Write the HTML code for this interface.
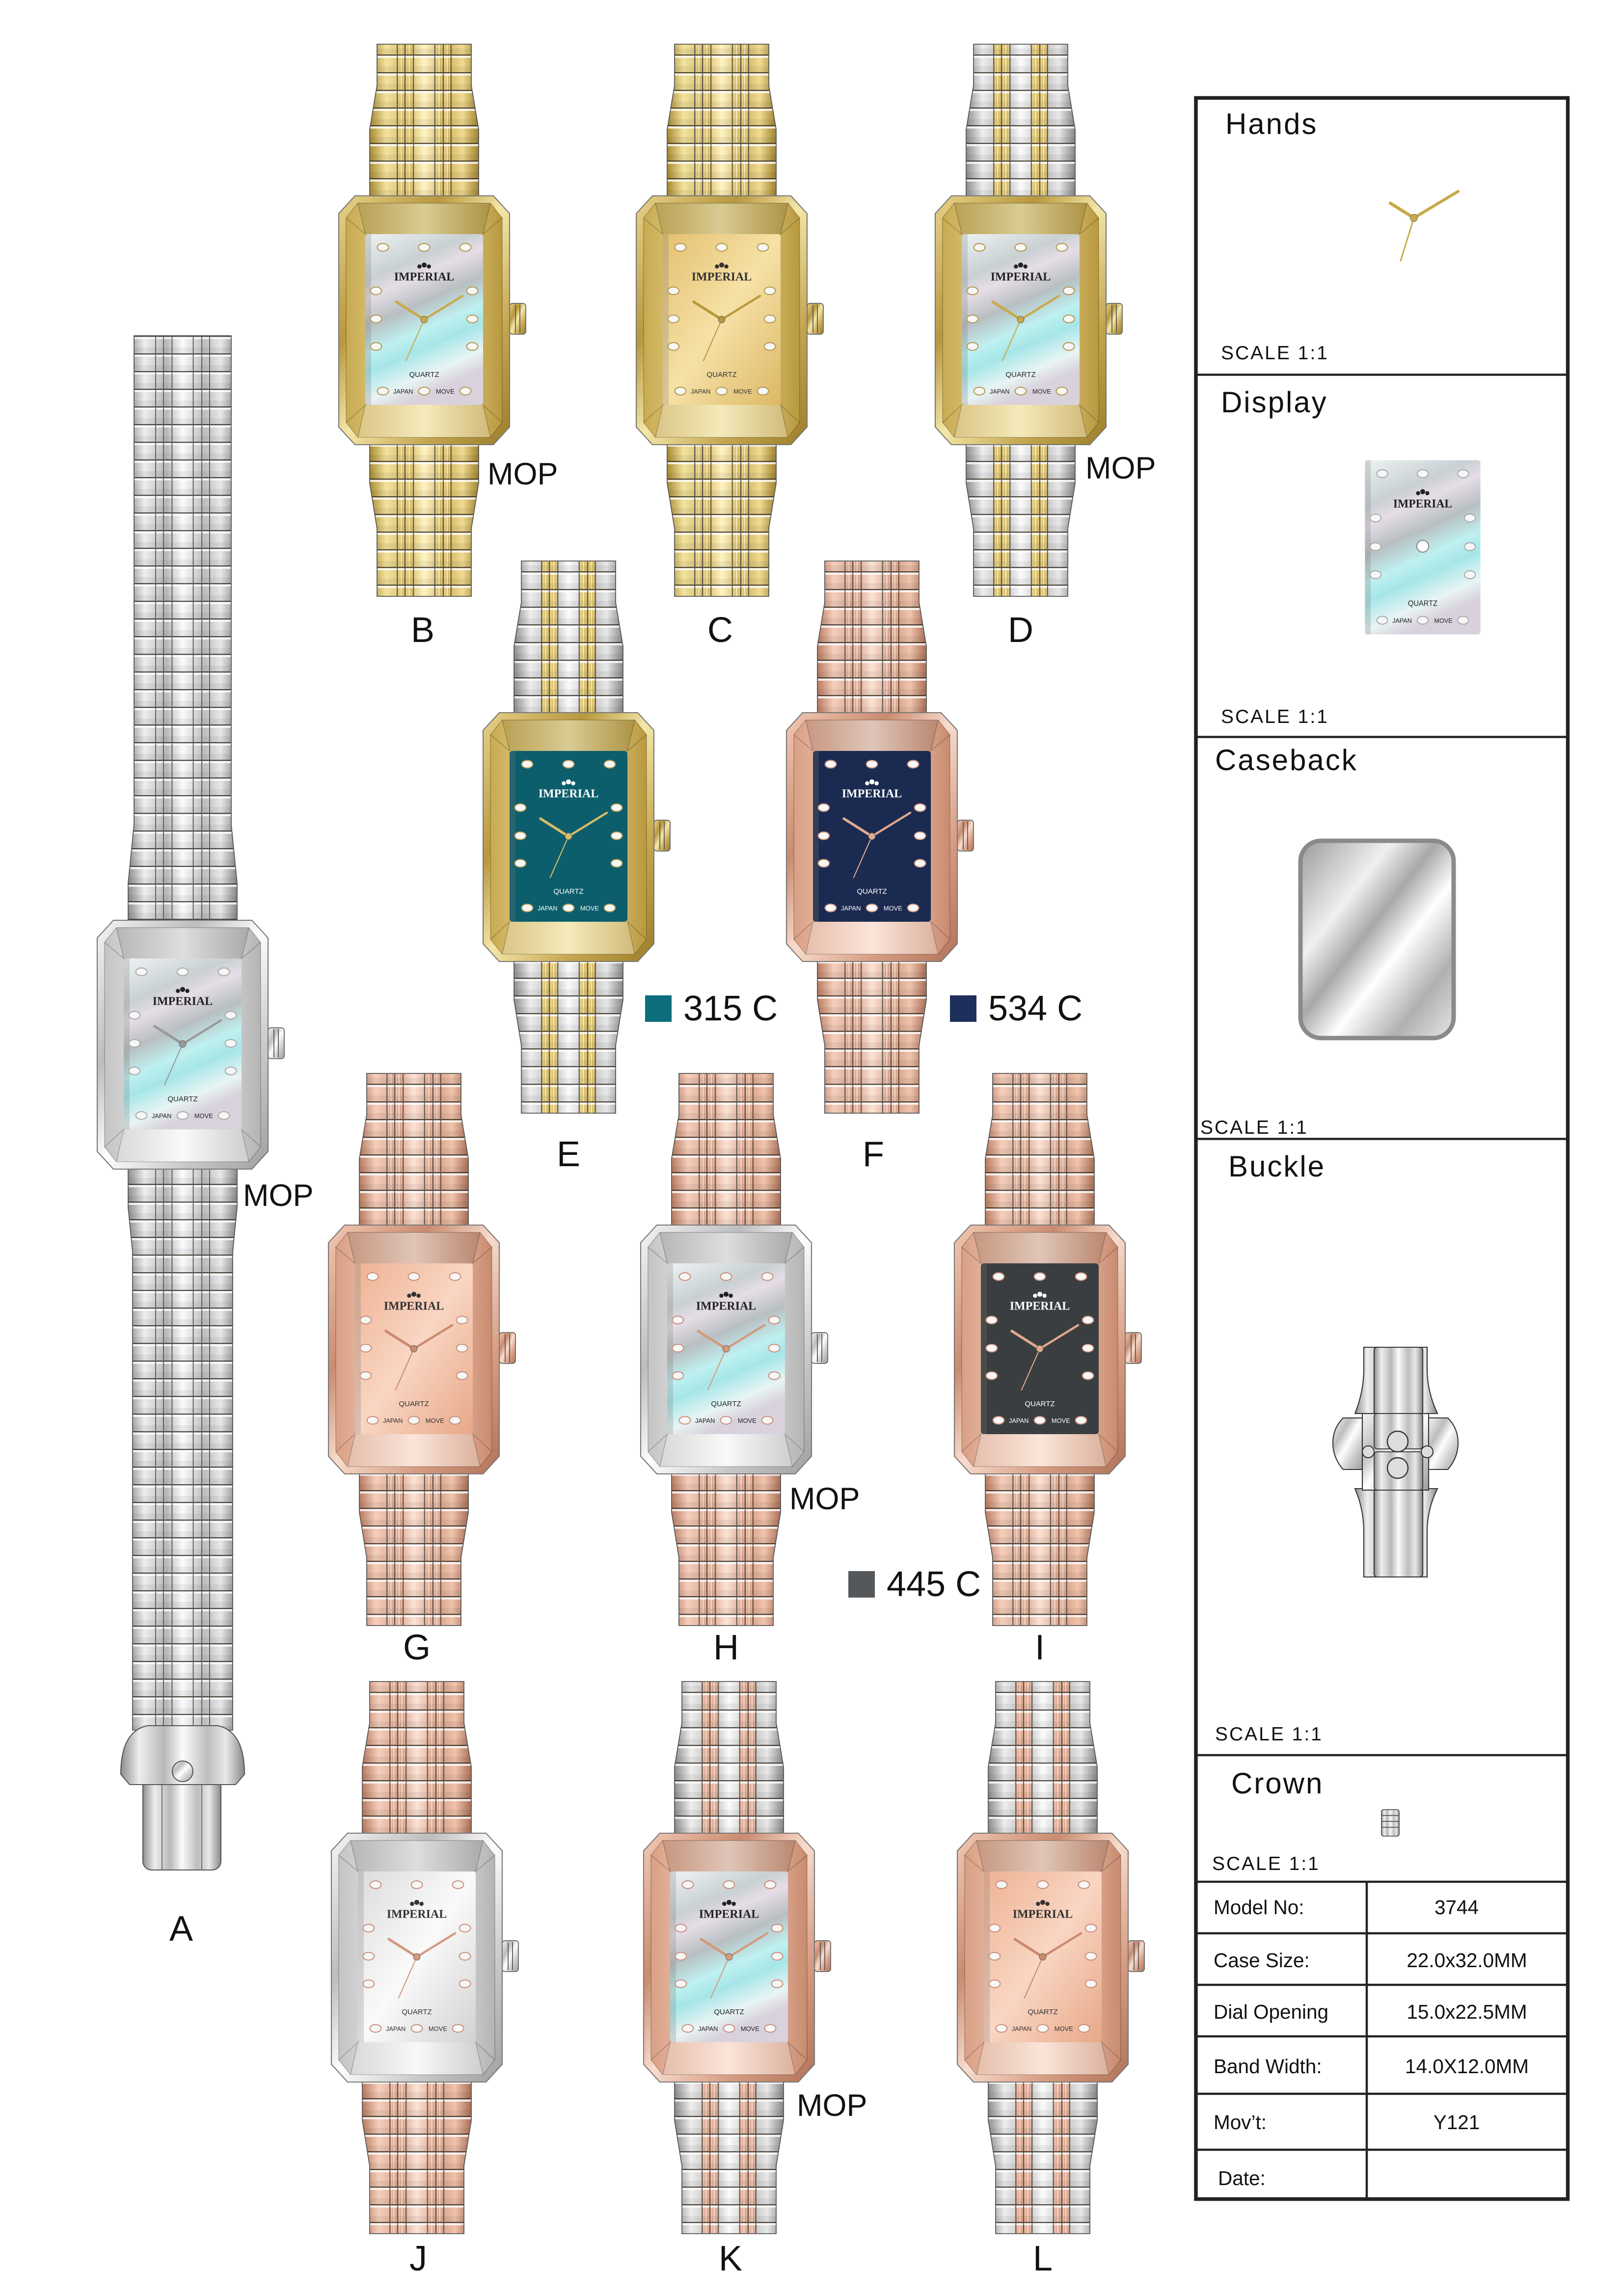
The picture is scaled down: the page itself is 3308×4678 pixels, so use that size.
<!DOCTYPE html>
<html><head><meta charset="utf-8"><style>
html,body{margin:0;padding:0;background:#fff}
svg{display:block}
text{font-family:"Liberation Sans",sans-serif}
</style></head><body>
<svg width="3308" height="4678" viewBox="0 0 1102.67 1559.33" xmlns="http://www.w3.org/2000/svg">
<defs>
<linearGradient id="gold" x1="0" x2="1"><stop offset="0" stop-color="#a88a30"/><stop offset=".15" stop-color="#f3e3a0"/><stop offset=".35" stop-color="#d4b75e"/><stop offset=".5" stop-color="#fff4c4"/><stop offset=".7" stop-color="#cfae55"/><stop offset=".85" stop-color="#f0dc94"/><stop offset="1" stop-color="#a0832c"/></linearGradient>
<linearGradient id="rose" x1="0" x2="1"><stop offset="0" stop-color="#b97a5f"/><stop offset=".15" stop-color="#f5cfbd"/><stop offset=".35" stop-color="#d9a188"/><stop offset=".5" stop-color="#fbe3d6"/><stop offset=".7" stop-color="#d49a80"/><stop offset=".85" stop-color="#f0c4ad"/><stop offset="1" stop-color="#a96e55"/></linearGradient>
<linearGradient id="silver" x1="0" x2="1"><stop offset="0" stop-color="#8d8d8d"/><stop offset=".15" stop-color="#eeeeee"/><stop offset=".35" stop-color="#b8b8b8"/><stop offset=".5" stop-color="#fbfbfb"/><stop offset=".7" stop-color="#bdbdbd"/><stop offset=".85" stop-color="#e8e8e8"/><stop offset="1" stop-color="#888"/></linearGradient>
<linearGradient id="goldC" x1="0" y1="0" x2="1" y2="1"><stop offset="0" stop-color="#e8d28a"/><stop offset=".3" stop-color="#b8983e"/><stop offset=".5" stop-color="#f5e7a8"/><stop offset=".75" stop-color="#c4a650"/><stop offset="1" stop-color="#9c7e2a"/></linearGradient>
<linearGradient id="roseC" x1="0" y1="0" x2="1" y2="1"><stop offset="0" stop-color="#f3c9b4"/><stop offset=".3" stop-color="#c98c70"/><stop offset=".5" stop-color="#f8dccd"/><stop offset=".75" stop-color="#d69c82"/><stop offset="1" stop-color="#b07358"/></linearGradient>
<linearGradient id="silverC" x1="0" y1="0" x2="1" y2="1"><stop offset="0" stop-color="#f5f5f5"/><stop offset=".3" stop-color="#bdbdbd"/><stop offset=".5" stop-color="#fefefe"/><stop offset=".75" stop-color="#c8c8c8"/><stop offset="1" stop-color="#a0a0a0"/></linearGradient>
<linearGradient id="goldB" x1="0" y1="0" x2="1" y2="0"><stop offset="0" stop-color="#c8aa52"/><stop offset=".5" stop-color="#f2e3a4"/><stop offset="1" stop-color="#b9993f"/></linearGradient>
<linearGradient id="roseB" x1="0" y1="0" x2="1" y2="0"><stop offset="0" stop-color="#d9a085"/><stop offset=".5" stop-color="#f9dccd"/><stop offset="1" stop-color="#c98b6f"/></linearGradient>
<linearGradient id="silverB" x1="0" y1="0" x2="1" y2="0"><stop offset="0" stop-color="#c4c4c4"/><stop offset=".5" stop-color="#f7f7f7"/><stop offset="1" stop-color="#b4b4b4"/></linearGradient>
<linearGradient id="mop" x1="0" y1="0" x2=".3" y2="1"><stop offset="0" stop-color="#eef3f4"/><stop offset=".25" stop-color="#c9d0d3"/><stop offset=".35" stop-color="#e6dde6"/><stop offset=".5" stop-color="#b8bfc2"/><stop offset=".65" stop-color="#bff0f0"/><stop offset=".75" stop-color="#a6e6e8"/><stop offset=".9" stop-color="#e8f4f4"/><stop offset="1" stop-color="#d9d2dc"/></linearGradient>
<linearGradient id="goldD" x1="0" y1="0" x2="1" y2="1"><stop offset="0" stop-color="#e3c070"/><stop offset=".5" stop-color="#f6e1a6"/><stop offset="1" stop-color="#dcb866"/></linearGradient>
<linearGradient id="roseD" x1="0" y1="0" x2="1" y2="1"><stop offset="0" stop-color="#eeb293"/><stop offset=".5" stop-color="#f9d6c3"/><stop offset="1" stop-color="#e8a888"/></linearGradient>
<linearGradient id="silverD" x1="0" y1="0" x2="1" y2="1"><stop offset="0" stop-color="#dcdcdc"/><stop offset=".5" stop-color="#fafafa"/><stop offset="1" stop-color="#d2d2d2"/></linearGradient>
<linearGradient id="back" x1="0" y1="0" x2="1" y2="1"><stop offset="0" stop-color="#9a9a9a"/><stop offset=".3" stop-color="#f0f0f0"/><stop offset=".45" stop-color="#a8a8a8"/><stop offset=".6" stop-color="#ffffff"/><stop offset=".8" stop-color="#b0b0b0"/><stop offset="1" stop-color="#e6e6e6"/></linearGradient>
<pattern id="links" width="100" height="12" patternUnits="userSpaceOnUse"><rect y="0" width="100" height="0.8" fill="rgba(40,30,20,.8)"/><rect y="0.8" width="100" height="1.5" fill="rgba(255,255,255,.8)"/><rect y="8" width="100" height="4" fill="rgba(0,0,0,.06)"/></pattern>

<g id="dial">
<rect x="-40" y="26" width="80" height="116" rx="2" style="fill:var(--d)"/>
<rect x="-40" y="26" width="4" height="116" fill="rgba(120,120,120,.25)"/>
<g style="fill:#f7f7f7;stroke:var(--m)" stroke-width=".7">
<ellipse cx="-28" cy="35" rx="3.8" ry="2.6"/><ellipse cx="0" cy="35" rx="3.8" ry="2.6"/><ellipse cx="28" cy="35" rx="3.8" ry="2.6"/>
<ellipse cx="-32.7" cy="64.5" rx="3.8" ry="2.6"/><ellipse cx="-32.7" cy="83.6" rx="3.8" ry="2.6"/><ellipse cx="-32.7" cy="102.3" rx="3.8" ry="2.6"/>
<ellipse cx="32.7" cy="64.5" rx="3.8" ry="2.6"/><ellipse cx="32.7" cy="83.6" rx="3.8" ry="2.6"/><ellipse cx="32.7" cy="102.3" rx="3.8" ry="2.6"/>
<ellipse cx="-28" cy="132.6" rx="3.8" ry="2.6"/><ellipse cx="0" cy="132.6" rx="3.8" ry="2.6"/><ellipse cx="28" cy="132.6" rx="3.8" ry="2.6"/>
</g>
<g style="fill:var(--t)">
<circle cx="-3.2" cy="48" r="1.4"/><circle cx="0" cy="47" r="1.7"/><circle cx="3.2" cy="48" r="1.4"/>
<text x="0" y="57.5" text-anchor="middle" font-weight="bold" font-size="8" style="font-family:'Liberation Serif',serif">IMPERIAL</text>
<text x="0" y="123" text-anchor="middle" font-size="5">QUARTZ</text>
<text x="-14.3" y="134.3" text-anchor="middle" font-size="4.3">JAPAN</text>
<text x="14.3" y="134.3" text-anchor="middle" font-size="4.3">MOVE</text>
</g>
</g>

<g id="upper">
<path d="M-32,-103H32V-75L37,-45V0H-37V-45L-32,-75Z" style="fill:var(--b1)"/>
<g style="fill:var(--b2)"><rect x="-18" y="-103" width="4.8" height="103"/><rect x="-12.8" y="-103" width="5.4" height="103"/><rect x="7.4" y="-103" width="5.4" height="103"/><rect x="13.2" y="-103" width="4.8" height="103"/></g>
<path d="M-32,-103H32V-75L37,-45V0H-37V-45L-32,-75Z" fill="url(#links)" stroke="#555" stroke-width=".6"/>
<path d="M-18.3,-103V0M-13,-103V0M-7.2,-103V0M7.2,-103V0M13,-103V0M18.3,-103V0" stroke="#555" stroke-width=".6"/>
</g>
<g id="lower">
<path d="M-37,169H37V195L32,226V272H-32V226L-37,195Z" style="fill:var(--b1)"/>
<g style="fill:var(--b2)"><rect x="-18" y="169" width="4.8" height="103"/><rect x="-12.8" y="169" width="5.4" height="103"/><rect x="7.4" y="169" width="5.4" height="103"/><rect x="13.2" y="169" width="4.8" height="103"/></g>
<path d="M-37,169H37V195L32,226V272H-32V226L-37,195Z" fill="url(#links)" stroke="#555" stroke-width=".6"/>
<path d="M-18.3,169V272M-13,169V272M-7.2,169V272M7.2,169V272M13,169V272M18.3,169V272" stroke="#555" stroke-width=".6"/>
</g>
<g id="case">
<rect x="58" y="73" width="11" height="21" rx="2" style="fill:var(--c)" stroke="#666" stroke-width=".6"/>
<path d="M62,74V93M65,74V93" stroke="#555" stroke-width=".6"/>
<path d="M-47,0H47L58,12V157L47,169H-47L-58,157V12Z" style="fill:var(--c)" stroke="#777" stroke-width=".7"/>
<path d="M-45,5H45L53,15V154L45,164H-45L-53,154V15Z" style="fill:var(--c2)" stroke="rgba(0,0,0,.25)" stroke-width=".5"/>
<path d="M-45,5L-40,26H40L45,5Z" fill="rgba(0,0,0,.10)"/>
<path d="M-45,164L-40,142H40L45,164Z" fill="rgba(255,255,255,.25)"/>
<path d="M-53,15L-40,26M-45,5L-40,26M45,5L40,26M53,15L40,26M-53,154L-40,142M-45,164L-40,142M53,154L40,142M45,164L40,142" stroke="rgba(0,0,0,.25)" stroke-width=".5"/>
<use href="#dial"/>
<g style="stroke:var(--h)" stroke-linecap="round">
<line x1="0" y1="84" x2="-19" y2="72" stroke-width="1.8"/>
<line x1="0" y1="84" x2="26" y2="68" stroke-width="1.5"/>
<line x1="0" y1="84" x2="-12.4" y2="112" stroke-width=".7"/>
</g>
<circle cx="0" cy="84" r="2.3" style="fill:var(--h)" stroke="#555" stroke-width=".3"/>
</g>
<g id="w"><use href="#upper"/><use href="#lower"/><use href="#case"/></g>
</defs>

<g style="--b1:url(#silver);--b2:url(#silver);--c:url(#silverC);--c2:url(#silverB);--d:url(#mop);--t:#222;--h:#9a9a9a;--m:#aaa">
<path d="M91,228H157V560L161,600V625H87V600L91,560Z" fill="url(#silver)"/>
<path d="M91,228H157V560L161,600V625H87V600L91,560Z" fill="url(#links)" stroke="#555" stroke-width=".6"/>
<path d="M105.7,228V625M111,228V625M116.8,228V625M131.2,228V625M137,228V625M142.3,228V625" stroke="#555" stroke-width=".6"/>
<path d="M87,793H161V820L158,850V1175H90V850L87,820Z" fill="url(#silver)"/>
<path d="M87,793H161V820L158,850V1175H90V850L87,820Z" fill="url(#links)" stroke="#555" stroke-width=".6"/>
<path d="M105.7,793V1175M111,793V1175M116.8,793V1175M131.2,793V1175M137,793V1175M142.3,793V1175" stroke="#555" stroke-width=".6"/>
<rect x="97" y="1200" width="53" height="70" rx="6" fill="url(#silver)" stroke="#555" stroke-width=".7"/>
<path d="M110,1200V1270M137,1200V1270" stroke="#666" stroke-width=".6"/>
<path d="M82,1205Q82,1176 100,1172H148Q166,1176 166,1205L160,1212H88Z" fill="url(#silver)" stroke="#555" stroke-width=".7"/>
<circle cx="124" cy="1203" r="7" fill="url(#silverC)" stroke="#555" stroke-width=".7"/>
<use href="#case" transform="translate(124,625)"/>
</g>

<use href="#w" transform="translate(288,133)" style="--b1:url(#gold);--b2:url(#gold);--c:url(#goldC);--c2:url(#goldB);--d:url(#mop);--t:#222;--h:#c9a94a;--m:#b49a50"/>
<use href="#w" transform="translate(490,133)" style="--b1:url(#gold);--b2:url(#gold);--c:url(#goldC);--c2:url(#goldB);--d:url(#goldD);--t:#333;--h:#b8973d;--m:#b49a50"/>
<use href="#w" transform="translate(693,133)" style="--b1:url(#silver);--b2:url(#gold);--c:url(#goldC);--c2:url(#goldB);--d:url(#mop);--t:#222;--h:#c9a94a;--m:#b49a50"/>
<use href="#w" transform="translate(386,484)" style="--b1:url(#silver);--b2:url(#gold);--c:url(#goldC);--c2:url(#goldB);--d:#0c5e6c;--t:#fff;--h:#d9bc66;--m:#b49a50"/>
<use href="#w" transform="translate(592,484)" style="--b1:url(#rose);--b2:url(#rose);--c:url(#roseC);--c2:url(#roseB);--d:#1b2a50;--t:#fff;--h:#e0a98e;--m:#c9907a"/>
<use href="#w" transform="translate(281,832)" style="--b1:url(#rose);--b2:url(#rose);--c:url(#roseC);--c2:url(#roseB);--d:url(#roseD);--t:#333;--h:#c98a6e;--m:#c9907a"/>
<use href="#w" transform="translate(493,832)" style="--b1:url(#rose);--b2:url(#rose);--c:url(#silverC);--c2:url(#silverB);--d:url(#mop);--t:#222;--h:#d39a7e;--m:#c9907a"/>
<use href="#w" transform="translate(706,832)" style="--b1:url(#rose);--b2:url(#rose);--c:url(#roseC);--c2:url(#roseB);--d:#3b3e41;--t:#fff;--h:#e0a98e;--m:#c9907a"/>
<use href="#w" transform="translate(283,1245)" style="--b1:url(#rose);--b2:url(#rose);--c:url(#silverC);--c2:url(#silverB);--d:url(#silverD);--t:#333;--h:#d39a7e;--m:#c9907a"/>
<use href="#w" transform="translate(495,1245)" style="--b1:url(#silver);--b2:url(#rose);--c:url(#roseC);--c2:url(#roseB);--d:url(#mop);--t:#222;--h:#d39a7e;--m:#c9907a"/>
<use href="#w" transform="translate(708,1245)" style="--b1:url(#silver);--b2:url(#rose);--c:url(#roseC);--c2:url(#roseB);--d:url(#roseD);--t:#333;--h:#c98a6e;--m:#c9907a"/>

<g font-size="24" text-anchor="middle" fill="#111">
<text x="287" y="436">B</text><text x="489" y="436">C</text><text x="693" y="436">D</text>
<text x="386" y="792">E</text><text x="593" y="792">F</text>
<text x="283" y="1127">G</text><text x="493" y="1127">H</text><text x="706" y="1127">I</text>
<text x="284" y="1542">J</text><text x="496" y="1542">K</text><text x="708" y="1542">L</text>
<text x="123" y="1318">A</text>
</g>
<g font-size="21" fill="#111">
<text x="331" y="329">MOP</text><text x="737" y="325">MOP</text><text x="165" y="819">MOP</text>
<text x="536" y="1025">MOP</text><text x="541" y="1437">MOP</text>
</g>
<rect x="438" y="676" width="18" height="18" fill="#0e6e7e"/><text x="464" y="693" font-size="24" fill="#111">315  C</text>
<rect x="645" y="676" width="18" height="18" fill="#1d2f5a"/><text x="671" y="693" font-size="24" fill="#111">534  C</text>
<rect x="576" y="1067" width="18" height="18" fill="#54585a"/><text x="602" y="1084" font-size="24" fill="#111">445  C</text>

<g fill="none" stroke="#222">
<rect x="812" y="66.5" width="252.5" height="1427" stroke-width="2.5"/>
<path d="M812,254.5H1065M812,500.5H1065M812,773.5H1065M812,1192H1065M812,1278H1065M812,1313H1065M812,1348H1065M812,1383H1065M812,1422H1065M812,1460H1065M928,1278V1494" stroke-width="1.5"/>
</g>
<g font-size="20" fill="#111" letter-spacing="1">
<text x="832" y="91">Hands</text><text x="829" y="280">Display</text><text x="825" y="523">Caseback</text><text x="834" y="799">Buckle</text><text x="836" y="1218">Crown</text>
</g>
<g font-size="13" fill="#111" letter-spacing="1">
<text x="829" y="244">SCALE  1:1</text><text x="829" y="491">SCALE  1:1</text><text x="815" y="770">SCALE  1:1</text><text x="825" y="1182">SCALE  1:1</text><text x="823" y="1270">SCALE  1:1</text>
</g>
<g font-size="13.5" fill="#111">
<text x="824" y="1300">Model No:</text><text x="824" y="1336">Case Size:</text><text x="824" y="1371">Dial Opening</text><text x="824" y="1408">Band Width:</text><text x="824" y="1446">Mov’t:</text><text x="827" y="1484">Date:</text>
</g>
<g font-size="13.5" fill="#111" text-anchor="middle">
<text x="989" y="1300">3744</text><text x="996" y="1336">22.0x32.0MM</text><text x="996" y="1371">15.0x22.5MM</text><text x="996" y="1408">14.0X12.0MM</text><text x="989" y="1446">Y121</text>
</g>
<g stroke="#c9a94a" stroke-linecap="round">
<line x1="960" y1="148" x2="944" y2="138" stroke-width="2.2"/>
<line x1="960" y1="148" x2="990" y2="130" stroke-width="2"/>
<line x1="960" y1="148" x2="951" y2="177" stroke-width="1"/>
</g>
<circle cx="960" cy="148" r="2.5" fill="#c9a94a" stroke="#666" stroke-width=".3"/>
<g transform="translate(966,286) scale(.98,1.02)" style="--d:url(#mop);--t:#222;--m:#aaa"><use href="#dial"/></g>
<circle cx="966" cy="371" r="4" fill="#fff" stroke="#888" stroke-width=".7"/>
<rect x="883" y="571" width="104" height="134" rx="14" fill="url(#back)" stroke="#8a8a8a" stroke-width="3"/>
<path d="M926,915H969V930Q969,945 976,960H920Q926,945 926,930Z" fill="url(#silver)" stroke="#333" stroke-width=".7"/>
<path d="M920,1011H976Q969,1025 969,1040V1071H926V1040Q926,1025 920,1011Z" fill="url(#silver)" stroke="#333" stroke-width=".7"/>
<rect x="933" y="915" width="33" height="156" rx="2" fill="url(#silver)" stroke="#333" stroke-width=".7"/>
<path d="M912,963H925V998H912Q905,990 905,980Q905,970 912,963Z" fill="url(#silverC)" stroke="#333" stroke-width=".7"/>
<path d="M983,963H970V998H983Q990,990 990,980Q990,970 983,963Z" fill="url(#silverC)" stroke="#333" stroke-width=".7"/>
<rect x="925" y="960" width="45" height="52" fill="url(#silverC)" stroke="#333" stroke-width=".7"/>
<rect x="933" y="960" width="33" height="24" rx="2" fill="url(#silver)" stroke="#333" stroke-width=".6"/>
<rect x="933" y="986" width="33" height="26" rx="2" fill="url(#silver)" stroke="#333" stroke-width=".6"/>
<circle cx="949" cy="979" r="7" fill="#ddd" stroke="#333" stroke-width=".8"/>
<circle cx="949" cy="997" r="7" fill="#ddd" stroke="#333" stroke-width=".8"/>
<circle cx="929" cy="986" r="4" fill="#ddd" stroke="#333" stroke-width=".7"/>
<circle cx="969" cy="986" r="4" fill="#ddd" stroke="#333" stroke-width=".7"/>
<rect x="938" y="1229" width="12" height="18" rx="1.5" fill="url(#silver)" stroke="#555" stroke-width=".6"/>
<path d="M938,1233H950M938,1237H950M938,1241H950" stroke="#555" stroke-width=".6"/>
</svg>
</body></html>
